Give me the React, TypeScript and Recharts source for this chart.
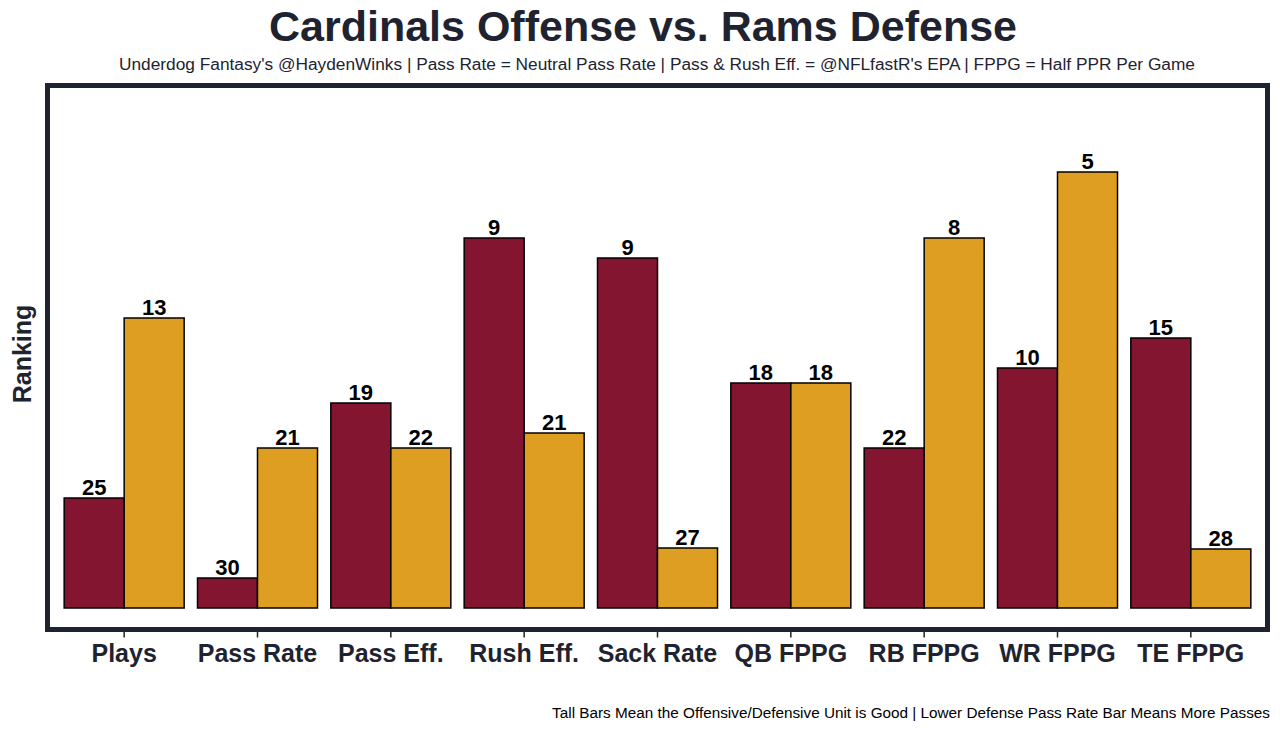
import React from 'react';
import { BarChart, Bar, XAxis, YAxis, LabelList } from 'recharts';

const categories = ['Plays', 'Pass Rate', 'Pass Eff.', 'Rush Eff.', 'Sack Rate', 'QB FPPG', 'RB FPPG', 'WR FPPG', 'TE FPPG'];
const offenseRank = [25, 30, 19, 9, 9, 18, 22, 10, 15];
const defenseRank = [13, 21, 22, 21, 27, 18, 8, 5, 28];
const offenseBar = [11.0, 3.0, 20.5, 37.0, 35.0, 22.5, 16.0, 24.0, 27.0];
const defenseBar = [29.0, 16.0, 16.0, 17.5, 6.0, 22.5, 37.0, 43.6, 5.9];

const data = categories.map((c, i) => ({
  category: c,
  off: offenseBar[i],
  def: defenseBar[i],
  offRank: offenseRank[i],
  defRank: defenseRank[i],
}));

const FONT = '"Liberation Sans", Arial, Helvetica, sans-serif';
const DARK = '#1f2330';
const RED = '#831531';
const GOLD = '#DE9E21';

const frameLine = { stroke: DARK, strokeWidth: 5, strokeLinecap: 'square' as const };
const labelStyle = { fontFamily: FONT, fontWeight: 700, fontSize: 22, fill: '#000' };

export default function App() {
  return (
    <div style={{ position: 'absolute', left: 0, top: 0, width: 1280, height: 730, background: '#fff' }}>
      <svg width={1280} height={730} style={{ position: 'absolute', left: 0, top: 0 }}>
        <text x={643} y={41} textAnchor="middle" fontFamily={FONT} fontWeight={700} fontSize={43} fill={DARK}>
          Cardinals Offense vs. Rams Defense
        </text>
        <text x={657} y={70} textAnchor="middle" fontFamily={FONT} fontSize={17.3} fill={DARK}>
          Underdog Fantasy's @HaydenWinks | Pass Rate = Neutral Pass Rate | Pass &amp; Rush Eff. = @NFLfastR's EPA | FPPG = Half PPR Per Game
        </text>
        <text x={1270} y={718} textAnchor="end" fontFamily={FONT} fontSize={15.3} fill="#000">
          Tall Bars Mean the Offensive/Defensive Unit is Good | Lower Defense Pass Rate Bar Means More Passes
        </text>
        <text x={31} y={354} textAnchor="middle" transform="rotate(-90 31 354)" fontFamily={FONT} fontWeight={700} fontSize={25} fill={DARK}>
          Ranking
        </text>
      </svg>
      <div style={{ position: 'absolute', left: 0, top: 0 }}>
        <BarChart
          width={1280}
          height={730}
          data={data}
          margin={{ top: 84.5, right: 11.5, bottom: 40.5, left: 46.5 }}
          barCategoryGap="5%"
          barGap={0}
        >
          <XAxis
            dataKey="category"
            height={60}
            padding={{ left: 10, right: 10 }}
            axisLine={frameLine}
            tickLine={{ stroke: DARK, strokeWidth: 1.5 }}
            tickSize={8}
            tickMargin={7}
            interval={0}
            tick={{ fill: DARK, fontSize: 25, fontWeight: 700, fontFamily: FONT }}
          />
          <XAxis
            xAxisId="top"
            dataKey="category"
            orientation="top"
            height={1}
            axisLine={frameLine}
            tick={false}
            tickLine={false}
          />
          <YAxis
            type="number"
            domain={[-2.15, 52.25]}
            width={1}
            axisLine={frameLine}
            tick={false}
            tickLine={false}
            allowDataOverflow
          />
          <YAxis
            yAxisId="right"
            type="number"
            orientation="right"
            domain={[0, 1]}
            width={1}
            axisLine={frameLine}
            tick={false}
            tickLine={false}
          />
          <Bar dataKey="off" fill={RED} stroke="#000" strokeWidth={1.5} isAnimationActive={false}>
            <LabelList dataKey="offRank" position="top" offset={3} style={labelStyle} />
          </Bar>
          <Bar dataKey="def" fill={GOLD} stroke="#000" strokeWidth={1.5} isAnimationActive={false}>
            <LabelList dataKey="defRank" position="top" offset={3} style={labelStyle} />
          </Bar>
        </BarChart>
      </div>
    </div>
  );
}
